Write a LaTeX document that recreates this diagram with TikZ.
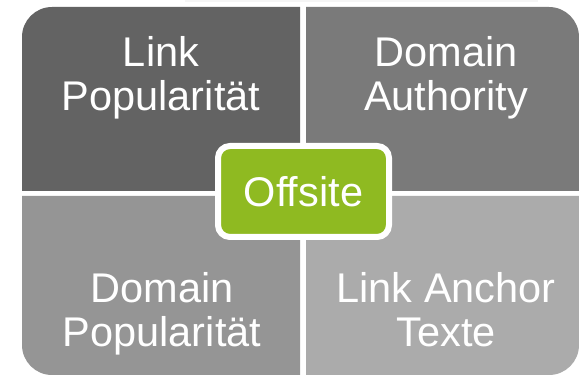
\documentclass[tikz,border=0pt]{standalone}
\usepackage{fontspec}
\setmainfont{Liberation Sans}
\usepackage{tikz}
\definecolor{tlgray}{RGB}{99,99,99}
\definecolor{trgray}{RGB}{122,122,122}
\definecolor{blgray}{RGB}{149,149,149}
\definecolor{brgray}{RGB}{171,171,171}
\definecolor{offgreen}{RGB}{143,186,33}
\newcommand{\bigtext}{\fontsize{41.5}{44}\selectfont}

\begin{document}
\begin{tikzpicture}[x=1pt, y=1pt,
    quadtext/.style={anchor=north, inner sep=0pt, align=center, text=white, font=\bigtext},
    centerbox/.style={draw=white, line width=6pt, fill=offgreen, rounded corners=12pt,
        minimum width=171pt, minimum height=91pt, inner sep=0pt, text=white, font=\bigtext}]
    \useasboundingbox (0,0) rectangle (579,375);

    % faint strip on top
    \fill[gray!8] (185,373) rectangle (538,375);

    % the four quadrants
    \fill[tlgray] (22,184) -- (22,338) arc[start angle=180, end angle=90, radius=30] -- (300,368) -- (300,184) -- cycle;
    \fill[trgray] (306,184) -- (306,368) -- (549,368) arc[start angle=90, end angle=0, radius=30] -- (579,184) -- cycle;
    \fill[blgray] (22,179) -- (22,30) arc[start angle=180, end angle=270, radius=30] -- (300,0) -- (300,179) -- cycle;
    \fill[brgray] (306,179) -- (306,0) -- (549,0) arc[start angle=270, end angle=360, radius=30] -- (579,179) -- cycle;

    \node[quadtext] (linkpop) at (161,338.7) {Link\\Popularität};
    \node[quadtext] (domauth) at (446,338.7) {Domain\\Authority};
    \node[quadtext] (dompop) at (162,102.7) {Domain\\Popularität};
    \node[quadtext] (anchor) at (446,102.7) {Link Anchor\\Texte};

    \node[centerbox] (offsite) at (303.5,183.5) {Offsite};
\end{tikzpicture}
\end{document}
